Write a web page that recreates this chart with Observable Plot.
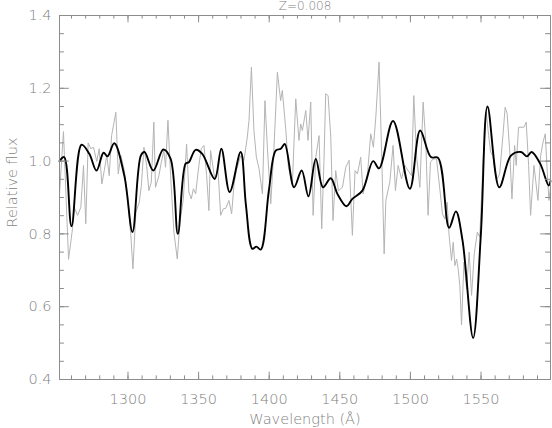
<!DOCTYPE html>
<html>
<head>
<meta charset="utf-8">
<script src="https://cdn.jsdelivr.net/npm/d3@7"></script>
<script src="https://cdn.jsdelivr.net/npm/@observablehq/plot@0.6"></script>
<style>
  html, body { margin: 0; padding: 0; background: #fff; }
  #chart { width: 552px; height: 428px; }
</style>
</head>
<body>
<div id="chart"></div>
<script>
// ---- data ----
const title = "Z=0.008";
const xLabel = "Wavelength (Å)";
const yLabel = "Relative flux";
const xMajorTicks = [1300, 1350, 1400, 1450, 1500, 1550];
const yMajorTicks = [0.4, 0.6, 0.8, 1.0, 1.2, 1.4];
const yTickLabels = ["0.4", "0.6", "0.8", "1.0", "1.2", "1.4"];

// smoothed model spectrum (black)
const modelWave = [1251.5,1254.8,1260.0,1267.1,1272.6,1277.7,1282.7,1285.5,1290.3,1297.4,1303.2,1309.1,1311.7,1317.9,1325.0,1330.2,1335.3,1340.8,1343.1,1347.9,1352.6,1361.4,1366.1,1372.0,1379.8,1383.5,1388.1,1390.9,1394.0,1399.8,1404.6,1408.2,1411.0,1417.6,1423.0,1427.8,1433.0,1438.1,1443.6,1448.3,1454.7,1458.9,1466.0,1473.6,1477.8,1487.7,1499.6,1506.9,1514.5,1519.6,1527.4,1532.2,1536.9,1544.4,1549.9,1554.6,1562.9,1571.2,1578.3,1582.5,1585.8,1591.9,1597.9,1599.2];
const modelFlux = [1.000,1.011,0.821,1.045,1.020,0.974,1.023,1.013,1.049,0.960,0.805,1.015,1.025,0.974,1.032,1.006,0.800,0.993,0.997,1.031,1.020,0.951,1.034,0.915,1.025,0.880,0.759,0.765,0.757,0.920,1.029,1.034,1.047,0.928,0.974,0.903,1.006,0.928,0.953,0.910,0.876,0.896,0.919,1.000,0.980,1.110,0.924,1.084,1.011,1.009,0.817,0.862,0.782,0.514,0.800,1.150,0.928,1.015,1.025,1.013,1.025,0.993,0.933,0.945];

// observed spectrum (gray)
const obsWave = [1251.5,1254.3,1257.9,1260.7,1261.9,1264.3,1266.6,1268.5,1270.1,1271.8,1273.7,1275.6,1277.9,1279.6,1281.5,1283.2,1285.0,1286.7,1288.4,1291.4,1293.1,1295.0,1297.4,1299.7,1302.0,1303.5,1305.6,1308.0,1309.4,1311.3,1313.2,1314.8,1316.5,1318.3,1319.5,1321.9,1323.6,1325.4,1326.6,1328.3,1330.2,1332.5,1334.9,1336.8,1339.2,1341.5,1343.1,1344.8,1346.3,1347.9,1350.2,1351.9,1353.8,1355.7,1357.3,1358.5,1361.4,1363.7,1365.6,1367.5,1369.2,1371.5,1373.4,1375.1,1376.7,1379.8,1382.1,1384.5,1385.7,1387.4,1389.2,1390.9,1392.8,1395.2,1397.0,1398.7,1401.1,1403.4,1405.8,1408.1,1409.3,1411.7,1413.6,1416.4,1418.8,1421.1,1422.3,1423.5,1425.9,1427.5,1429.4,1431.1,1433.0,1435.3,1437.2,1438.8,1440.0,1441.7,1443.6,1445.2,1447.1,1449.0,1451.9,1454.2,1456.6,1458.9,1460.8,1462.5,1464.8,1466.5,1469.6,1471.9,1473.8,1475.5,1477.8,1479.7,1481.4,1482.6,1485.4,1487.7,1489.4,1491.3,1493.7,1496.0,1498.4,1500.8,1502.4,1504.3,1506.7,1509.0,1510.9,1512.5,1514.2,1516.1,1518.5,1520.8,1522.7,1524.4,1526.0,1527.4,1529.1,1530.3,1531.5,1532.7,1533.8,1535.0,1536.2,1537.9,1539.8,1541.6,1543.3,1545.2,1547.4,1549.1,1551.4,1553.7,1555.4,1556.8,1558.4,1560.1,1561.5,1563.2,1565.5,1567.1,1568.5,1570.2,1571.9,1573.8,1574.9,1576.6,1580.4,1582.0,1583.7,1585.1,1587.5,1588.7,1590.3,1592.2,1593.9,1595.5,1596.9,1598.1,1599.2];
const obsFlux = [0.910,1.081,0.730,0.814,0.873,0.851,0.873,0.988,0.828,1.050,1.034,1.038,0.999,1.034,0.937,0.974,1.015,0.960,1.070,1.134,0.965,1.015,0.974,0.905,0.796,0.704,0.860,0.887,0.930,1.038,0.988,0.919,0.942,1.107,0.928,0.960,0.997,1.029,0.983,1.112,0.960,0.805,0.731,0.832,0.896,1.047,0.915,0.896,0.924,0.910,0.988,1.034,1.043,0.960,0.864,1.029,0.951,0.979,0.851,0.869,0.870,0.892,0.855,0.937,0.974,1.015,1.002,1.066,1.112,1.258,1.084,1.011,0.979,0.910,1.166,1.038,0.883,1.038,1.244,1.166,1.194,1.089,0.983,0.937,1.171,1.057,1.102,1.084,1.139,1.057,1.162,0.851,1.011,1.070,0.814,1.002,1.185,1.180,1.066,0.837,0.974,0.919,0.928,0.983,1.002,0.796,0.974,0.965,1.011,0.910,0.965,1.075,1.038,1.121,1.272,1.011,0.745,0.892,0.942,1.043,0.919,0.988,0.951,0.988,0.974,0.960,1.180,1.015,0.928,1.162,1.052,0.851,0.997,1.006,1.006,0.924,0.855,0.841,0.887,0.796,0.727,0.777,0.713,0.731,0.704,0.658,0.550,0.722,0.649,0.750,0.631,0.745,0.805,0.791,0.997,1.134,1.070,1.025,1.015,0.970,0.951,0.965,1.070,1.148,1.130,1.034,0.896,1.043,0.988,1.093,1.093,1.107,0.988,0.851,0.988,0.947,0.892,1.015,1.052,1.075,0.970,0.892,0.930];

// ---- build ----
const model = modelWave.map((w, i) => ({w, f: modelFlux[i]}));
const obs = obsWave.map((w, i) => ({w, f: obsFlux[i]}));

const W = 552, H = 428;
const mL = 59, mR = 2, mT = 15, mB = 49;
const innerW = W - mL - mR, innerH = H - mT - mB;
const axisColor = "#8c8c8c";
const textColor = "#7f7f7f";
const xDomain = [1251.5, 1599.2];
const xMinor = d3.range(1260, 1600, 10);
const yMinor = d3.range(0, 21).map(i => 0.4 + i * 0.05);
const xTickLenMajor = 7.3, xTickLenMinor = 3.6;
const yTickLenMajor = 9.8, yTickLenMinor = 4.9;

const chart = Plot.plot({
  width: W,
  height: H,
  marginLeft: mL,
  marginRight: mR,
  marginTop: mT,
  marginBottom: mB,
  style: {fontFamily: "'DejaVu Sans', sans-serif", fontWeight: 200, fontSize: "14.5px", color: textColor, background: "#fff"},
  x: {domain: xDomain, label: null},
  y: {domain: [0.4, 1.4], label: null},
  marks: [
    Plot.line(obs, {x: "w", y: "f", stroke: "#b4b4b4", strokeWidth: 1}),
    Plot.line(model, {x: "w", y: "f", stroke: "#000", strokeWidth: 1.9, curve: "catmull-rom"}),
    // inward ticks: bottom / top
    Plot.tickX(xMinor, {x: d => d, stroke: axisColor, insetTop: innerH - xTickLenMinor}),
    Plot.tickX(xMinor, {x: d => d, stroke: axisColor, insetBottom: innerH - xTickLenMinor}),
    Plot.tickX(xMajorTicks, {x: d => d, stroke: axisColor, insetTop: innerH - xTickLenMajor}),
    Plot.tickX(xMajorTicks, {x: d => d, stroke: axisColor, insetBottom: innerH - xTickLenMajor}),
    // inward ticks: left / right
    Plot.tickY(yMinor, {y: d => d, stroke: axisColor, insetRight: innerW - yTickLenMinor}),
    Plot.tickY(yMinor, {y: d => d, stroke: axisColor, insetLeft: innerW - yTickLenMinor}),
    Plot.tickY(yMajorTicks, {y: d => d, stroke: axisColor, insetRight: innerW - yTickLenMajor}),
    Plot.tickY(yMajorTicks, {y: d => d, stroke: axisColor, insetLeft: innerW - yTickLenMajor}),
    Plot.frame({stroke: axisColor}),
    Plot.axisX(xMajorTicks, {tickSize: 0, tickPadding: 14, tickFormat: d => String(d), fill: textColor, fontSize: 14.5, letterSpacing: 0.5}),
    Plot.axisY(yMajorTicks, {tickSize: 0, tickPadding: 8, tickFormat: d => yTickLabels[yMajorTicks.indexOf(d)], fill: textColor, fontSize: 14.5, letterSpacing: 0.5}),
    Plot.text([title], {text: d => d, frameAnchor: "top", dy: -9, lineAnchor: "middle", fill: textColor, fontSize: 12, letterSpacing: 1.5}),
    Plot.text([xLabel], {text: d => d, frameAnchor: "bottom", dy: 40, lineAnchor: "middle", fill: textColor, fontSize: 14.5, letterSpacing: 0.6}),
    Plot.text([yLabel], {text: d => d, frameAnchor: "left", textAnchor: "middle", dx: -47, dy: -15, rotate: -90, lineAnchor: "middle", fill: textColor, fontSize: 14.5, letterSpacing: 0.6})
  ]
});
document.getElementById("chart").appendChild(chart);
</script>
</body>
</html>
